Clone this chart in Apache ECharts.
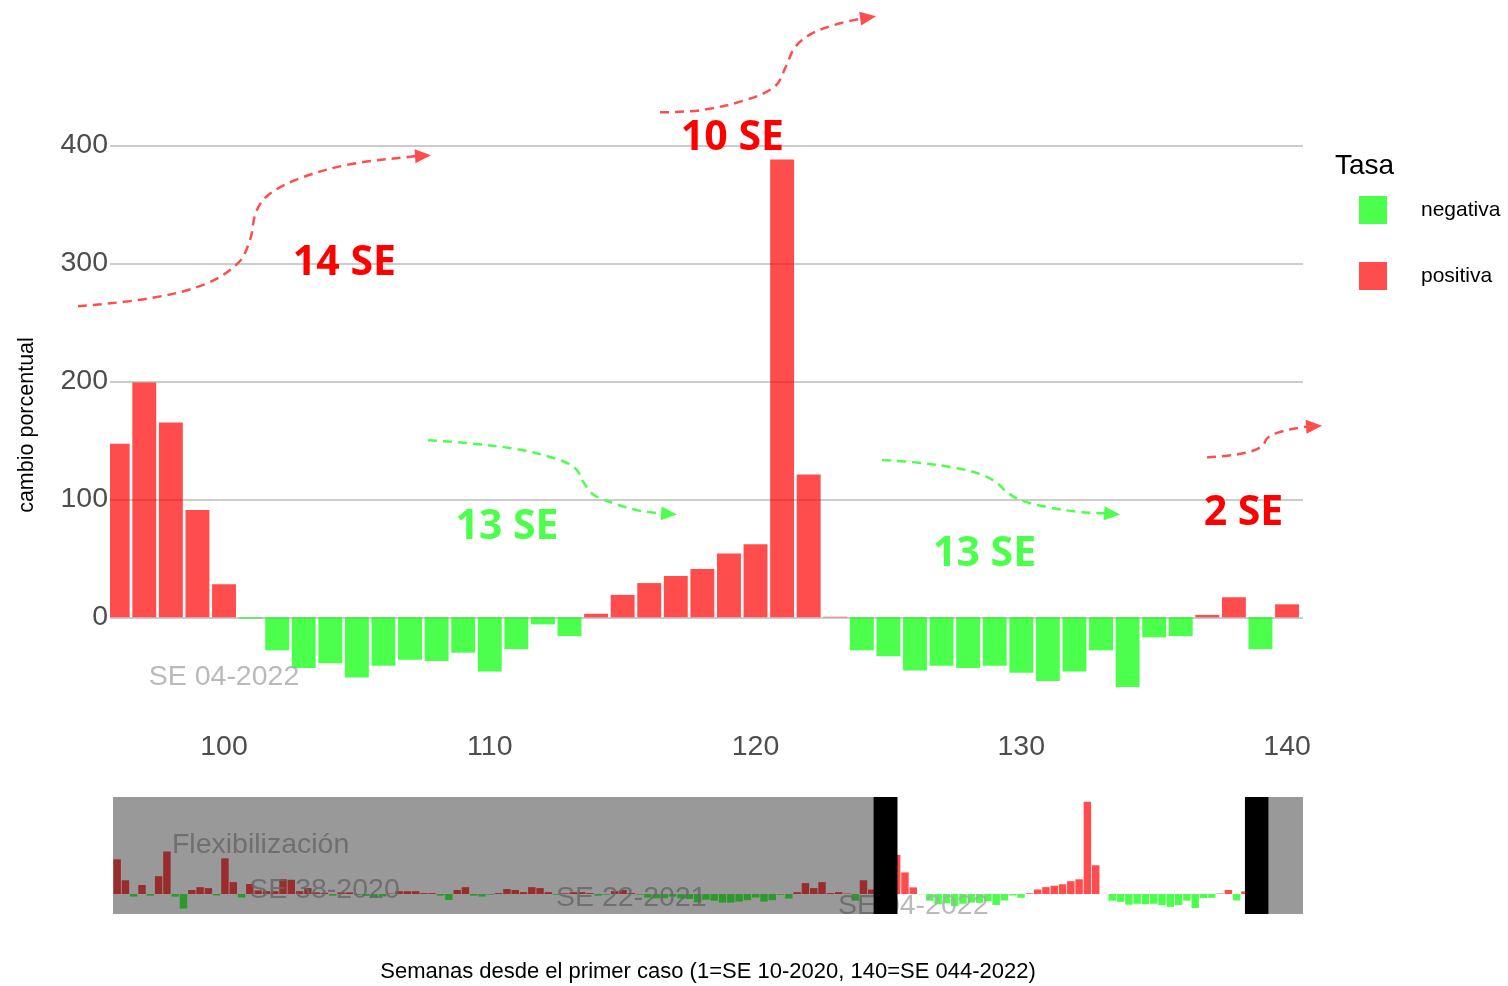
<!DOCTYPE html>
<html>
<head>
<meta charset="utf-8">
<script src="https://cdn.jsdelivr.net/npm/echarts@6/dist/echarts.min.js"></script>
<style>
html,body{margin:0;padding:0;background:#ffffff;}
#c{width:1508px;height:986px;}
</style>
</head>
<body>
<div id="c"></div>
<script>
// ---------------- DATA ----------------
// Weekly percent change, from week 4 to week 140
const firstWeek = 4;
const values = [
  146, 58, -11, 38, -7, 75, 179, -11, -61, 17,      // w4-w13
  29, 25, -6, 150, 50, -15, 42, 15, 12, 12,         // w14-w23
  63, 60, 12, 25, 7, 5, -7, 7, 7, -4,               // w24-w33
  -8, -15, -10, 2, 12, 12, 12, 4, 4, -7,            // w34-w43
  -25, 17, 29, -7, -11, -3, 4, 21, 17, 8,           // w44-w53
  29, 25, 8, -3, 3, 8, 8, 4, -7, -3,                // w54-w63
  12, 17, 4, -3, -15, -18, -18, -11, -18, -21,      // w64-w73
  -35, -24, -28, -36, -36, -32, -26, -15, -32, -26, // w74-w83
  -3, -19, 8, 46, 25, 50, 4, 8, 2, -28,             // w84-w93
  58, 19,                                           // w94-w95
  147, 199, 165, 91, 28, -1, -28, -43, -39, -51,    // w96-w105
  -41, -36, -37, -30, -46, -27, -6, -16, 3, 19,     // w106-w115
  29, 35, 41, 54, 62, 388, 121, 0.5, -28, -33,      // w116-w125
  -45, -41, -43, -41, -47, -54, -46, -28, -59, -17, // w126-w135
  -16, 2, 17, -27, 11                               // w136-w140
];
const weeks = values.map((v, i) => firstWeek + i);

// Gray event labels
const eventLabels = ['Flexibilización', 'SE 38-2020', 'SE 22-2021', 'SE 04-2022'];
const eventX = [21.3, 29, 66, 100];
const eventY = [206, 17, -17, -51];

// Trend annotations
const annotTexts = ['14 SE', '10 SE', '13 SE', '13 SE', '2 SE'];
const annotSign = ['pos', 'pos', 'neg', 'neg', 'pos'];
const annotX = [104.53, 119.13, 110.65, 128.62, 138.36];
const annotY = [299.8, 406.0, 76.2, 53.3, 88.2];

const legendNames = ['negativa', 'positiva'];

// ---------------- STYLE ----------------
const RED = 'rgba(255,0,0,0.7)';
const GREEN = 'rgba(0,255,0,0.7)';
const RED_SOLID = '#ff4d4d';
const GREEN_SOLID = '#4dff4d';
const FONT = '"Liberation Sans", Arial, sans-serif';
const TICK = '#4d4d4d';
const BAR_FRACTION = 0.9;

const negPairs = [], posPairs = [];
weeks.forEach((w, i) => {
  if (values[i] < 0) negPairs.push([w, values[i]]);
  else posPairs.push([w, values[i]]);
});
const eventData = eventLabels.map((t, i) => [eventX[i], eventY[i], t]);

// arrow paths in data coordinates of the main plot
const arrowPaths = [
  { c: RED_SOLID, path: [[94.506,263.6],[97.215,270.4],[99.285,282.3],[100.527,300.1],[100.978,319.6],[101.204,343.3],[101.656,357.7],[102.86,372.1],[104.741,383.9],[107.149,390.7]], tip: [107.789,391.6] },
  { c: RED_SOLID, path: [[116.406,428.0],[117.912,429.7],[119.605,438.2],[120.734,450.0],[121.148,467.0],[121.486,483.1],[122.126,494.9],[123.18,503.4],[124.008,507.6]], tip: [124.534,509.3] },
  { c: GREEN_SOLID, path: [[107.676,150.1],[109.144,147.6],[111.026,142.5],[112.644,133.2],[113.246,125.6],[113.547,113.7],[113.923,103.6],[114.638,96.8],[115.541,90.8],[116.294,88.3]], tip: [117.046,87.2] },
  { c: GREEN_SOLID, path: [[124.76,133.2],[125.927,131.5],[127.583,126.4],[128.561,120.5],[129.088,113.8],[129.464,106.1],[129.953,99.4],[130.969,93.4],[132.211,89.2],[133.114,88.1]], tip: [133.716,87.2] },
  { c: RED_SOLID, path: [[136.99,135.5],[137.968,137.5],[138.721,141.1],[139.097,145.9],[139.248,151.6],[139.624,156.3],[140.49,160.9],[140.791,161.6]], tip: [141.317,162.4] }
];

const sliderMaskL = [3.5, 95.2];
const sliderHandleL = [95.2, 98.1];
const sliderHandleR = [140.0, 142.85];
const sliderMaskR = [142.85, 147];

// bars drawn through the axes' scales and clipped to the plot area
function barRender(params, api) {
  const x = api.value(0), y = api.value(1);
  const base = api.coord([x, 0]);
  const top = api.coord([x, y]);
  const w = api.size([BAR_FRACTION, 0])[0];
  const cs = params.coordSys;
  const rect = echarts.graphic.clipRectByRect(
    { x: base[0] - w / 2, y: Math.min(base[1], top[1]), width: w, height: Math.abs(top[1] - base[1]) },
    { x: cs.x, y: cs.y, width: cs.width, height: cs.height });
  if (!rect) return null;
  return { type: 'rect', shape: rect, style: api.style() };
}

const labelStyle = { show: true, position: 'inside', formatter: p => p.data[2], fontSize: 28.5, color: '#a9a9a9', fontFamily: FONT };

const option = {
  backgroundColor: '#ffffff',
  animation: false,
  textStyle: { fontFamily: FONT },
  grid: [
    { left: 110, right: 205, top: 121.7, bottom: 274.3 },
    { left: 113, right: 205, top: 797, height: 117 }
  ],
  xAxis: [
    {
      type: 'value', gridIndex: 0, min: 95.71, max: 140.6,
      axisLine: { show: false, onZero: false }, axisTick: { show: false },
      splitLine: { show: false },
      axisLabel: { fontSize: 28.5, color: TICK, margin: 21, showMinLabel: false, showMaxLabel: false, fontFamily: FONT }
    },
    {
      type: 'value', gridIndex: 1, min: 3.5, max: 147,
      axisLine: { show: false, onZero: false }, axisTick: { show: false },
      splitLine: { show: false }, axisLabel: { show: false },
      name: 'Semanas desde el primer caso (1=SE 10-2020, 140=SE 044-2022)',
      nameLocation: 'middle', nameGap: 47,
      nameTextStyle: { fontSize: 22, color: '#000', fontFamily: FONT }
    }
  ],
  yAxis: [
    {
      type: 'value', gridIndex: 0, min: -80, max: 420,
      axisLine: { show: false }, axisTick: { show: false },
      axisLabel: { fontSize: 28.5, color: TICK, margin: 2, showMinLabel: false, showMaxLabel: false, fontFamily: FONT },
      splitLine: { show: true, showMinLine: false, showMaxLine: false, lineStyle: { color: '#cccccc', width: 2 } }
    },
    {
      type: 'value', gridIndex: 1, min: -84, max: 408,
      axisLine: { show: false }, axisTick: { show: false },
      axisLabel: { show: false }, splitLine: { show: false }
    }
  ],
  legend: {
    data: legendNames, orient: 'vertical', left: 1359, top: 196, padding: 0,
    itemWidth: 28, itemHeight: 28, itemGap: 38, icon: 'rect',
    textStyle: { fontSize: 21, color: '#000', padding: [4, 0, 0, 29], fontFamily: FONT }
  },
  series: [
    { name: 'negativa', type: 'custom', xAxisIndex: 0, yAxisIndex: 0, data: negPairs, renderItem: barRender, encode: { x: 0, y: 1 }, itemStyle: { color: GREEN }, z: 2 },
    { name: 'positiva', type: 'custom', xAxisIndex: 0, yAxisIndex: 0, data: posPairs, renderItem: barRender, encode: { x: 0, y: 1 }, itemStyle: { color: RED }, z: 2 },
    { name: 'negativa', type: 'custom', xAxisIndex: 1, yAxisIndex: 1, data: negPairs, renderItem: barRender, encode: { x: 0, y: 1 }, itemStyle: { color: GREEN }, z: 2 },
    { name: 'positiva', type: 'custom', xAxisIndex: 1, yAxisIndex: 1, data: posPairs, renderItem: barRender, encode: { x: 0, y: 1 }, itemStyle: { color: RED }, z: 2 },
    {
      name: 'eventos', type: 'scatter', xAxisIndex: 0, yAxisIndex: 0, data: eventData, symbolSize: 1,
      itemStyle: { color: 'rgba(0,0,0,0)' }, z: 3, clip: true, label: labelStyle
    },
    {
      name: 'eventos2', type: 'scatter', xAxisIndex: 1, yAxisIndex: 1, data: eventData, symbolSize: 1,
      itemStyle: { color: 'rgba(0,0,0,0)' }, z: 3, clip: true, label: labelStyle
    },
    {
      name: 'mask', type: 'line', xAxisIndex: 1, yAxisIndex: 1, data: [], z: 10, silent: true,
      markArea: { silent: true, z: 10, itemStyle: { color: 'rgba(0,0,0,0.4)' },
        data: [[{ xAxis: sliderMaskL[0] }, { xAxis: sliderMaskL[1] }], [{ xAxis: sliderMaskR[0] }, { xAxis: sliderMaskR[1] }]] }
    },
    {
      name: 'handles', type: 'line', xAxisIndex: 1, yAxisIndex: 1, data: [], z: 11, silent: true,
      markArea: { silent: true, z: 11, itemStyle: { color: '#000000' },
        data: [[{ xAxis: sliderHandleL[0] }, { xAxis: sliderHandleL[1] }], [{ xAxis: sliderHandleR[0] }, { xAxis: sliderHandleR[1] }]] }
    }
  ]
};

const chart = echarts.init(document.getElementById('c'));
chart.setOption(option);

function drawAnnotations() {
  const P = p => chart.convertToPixel({ gridIndex: 0 }, p);
  const g = [];
  arrowPaths.forEach(a => {
    const pts = a.path.map(P);
    const tip = P(a.tip);
    const last = pts[pts.length - 1];
    let dx = tip[0] - last[0], dy = tip[1] - last[1];
    const len = Math.hypot(dx, dy) || 1;
    dx /= len; dy /= len;
    const L = 16, W = 7;
    const bx = tip[0] - dx * L, by = tip[1] - dy * L;
    g.push({ type: 'polyline', z: 100, silent: true,
      shape: { points: pts.concat([[bx, by]]), smooth: 0.35 },
      style: { stroke: a.c, lineWidth: 2.5, lineDash: [9, 6], fill: null } });
    g.push({ type: 'polygon', z: 100, silent: true,
      shape: { points: [tip, [bx - dy * W, by + dx * W], [bx + dy * W, by - dx * W]] },
      style: { fill: a.c, stroke: null } });
  });
  annotTexts.forEach((t, i) => {
    const p = P([annotX[i], annotY[i]]);
    g.push({ type: 'text', z: 101, silent: true, x: p[0], y: p[1],
      style: { text: t, fill: annotSign[i] === 'pos' ? '#ff0000' : GREEN_SOLID,
        fontSize: 41, fontWeight: 'bold', fontFamily: '"Open Sans", "Noto Sans", sans-serif',
        align: 'center', verticalAlign: 'middle' } });
  });
  g.push({ type: 'text', z: 101, silent: true, x: 27, y: 425, rotation: Math.PI / 2,
    style: { text: 'cambio porcentual', fill: '#000', fontSize: 21.5, fontFamily: FONT, align: 'center', verticalAlign: 'middle' } });
  g.push({ type: 'text', z: 101, silent: true, x: 1335, y: 166,
    style: { text: 'Tasa', fill: '#000', fontSize: 28, fontFamily: FONT, align: 'left', verticalAlign: 'middle' } });
  chart.setOption({ graphic: g });
}
drawAnnotations();
</script>
</body>
</html>
